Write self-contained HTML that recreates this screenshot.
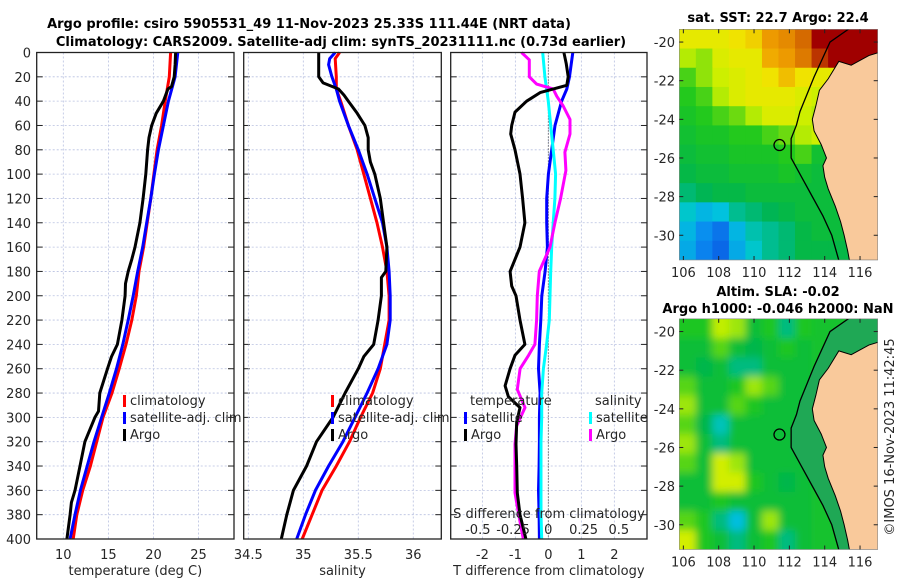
<!DOCTYPE html>
<html><head><meta charset="utf-8"><style>
html,body{margin:0;padding:0;background:#fff;}
svg{display:block;font-family:"DejaVu Sans","Liberation Sans",sans-serif;}
.t{font-size:13px;fill:#262626;}
.b{font-size:13px;font-weight:bold;fill:#000;}
</style></head><body>
<svg id="fig" width="900" height="580" viewBox="0 0 900 580" xmlns="http://www.w3.org/2000/svg">
<text class="b" x="309" y="28" text-anchor="middle">Argo profile: csiro 5905531_49 11-Nov-2023 25.33S 111.44E (NRT data)</text>
<text class="b" x="341" y="46" text-anchor="middle">Climatology: CARS2009. Satellite-adj clim: synTS_20231111.nc (0.73d earlier)</text>
<text class="b" x="778" y="22" text-anchor="middle">sat. SST: 22.7 Argo: 22.4</text>
<text class="b" x="778" y="296" text-anchor="middle">Altim. SLA: -0.02</text>
<text class="b" x="778" y="313" text-anchor="middle">Argo h1000: -0.046 h2000: NaN</text>
<text class="t" x="0" y="0" transform="translate(894,437) rotate(-90)" text-anchor="middle">©IMOS 16-Nov-2023 11:42:45</text>
<g id="g"></g>
</svg>
<script>
// ---------- data ----------
const depthTicks = [0,20,40,60,80,100,120,140,160,180,200,220,240,260,280,300,320,340,360,380,400];
const stdDepths = [0,20,40,60,80,100,120,140,160,180,200,220,240,260,280,300,320,340,360,380,400];
const tempClim = [21.9,21.75,21.3,20.9,20.4,20.05,19.7,19.3,18.9,18.4,18.1,17.6,16.95,16.2,15.4,14.4,13.7,13.0,12.15,11.5,11.1];
const tempSat = [22.7,22.4,21.65,21.1,20.55,20.1,19.7,19.25,18.8,18.25,17.75,17.2,16.6,15.9,15.1,14.25,13.4,12.65,11.9,11.3,10.75];
const argoTDepths = [0,10,20,28,30,40,50,60,70,80,100,120,140,160,170,180,190,200,220,240,250,260,280,295,300,320,340,360,370,380,400];
const tempArgo = [22.45,22.4,22.3,22.0,21.6,21.1,20.3,19.8,19.5,19.35,19.15,18.85,18.5,17.95,17.6,17.2,16.9,16.85,16.5,16.0,15.35,14.9,14.05,13.9,13.5,12.4,11.85,11.3,10.9,10.75,10.4];
const salClimDepths = [0,5,20,30,40,60,80,100,120,140,160,180,200,220,240,260,280,300,320,340,360,380,400];
const salClim = [35.33,35.29,35.30,35.30,35.34,35.41,35.49,35.55,35.61,35.67,35.72,35.76,35.78,35.78,35.74,35.70,35.63,35.52,35.42,35.30,35.17,35.08,34.99];
const salSatDepths = [0,5,10,20,30,40,60,80,100,120,140,160,180,200,220,240,260,280,300,320,340,360,380,400];
const salSat = [35.29,35.24,35.23,35.26,35.30,35.33,35.41,35.50,35.58,35.65,35.72,35.76,35.78,35.79,35.79,35.76,35.68,35.58,35.47,35.36,35.23,35.11,35.02,34.94];
const salArgoDepths = [0,5,20,25,30,35,40,50,60,70,80,90,100,120,140,160,180,185,200,220,240,250,260,280,300,320,340,360,380,400];
const salArgo = [35.14,35.14,35.14,35.18,35.32,35.37,35.41,35.49,35.56,35.59,35.59,35.61,35.65,35.70,35.73,35.76,35.75,35.71,35.71,35.68,35.64,35.55,35.50,35.38,35.27,35.12,35.03,34.91,34.85,34.80];
const tDiffSatDepths = [0,20,30,40,60,80,100,120,140,160,180,200,220,240,260,280,300,320,340,360,380,400];
const tDiffSat = [0.74,0.64,0.56,0.4,0.2,0.1,0,-0.05,-0.05,-0.03,-0.1,-0.2,-0.23,-0.27,-0.3,-0.25,-0.27,-0.27,-0.28,-0.3,-0.28,-0.27];
const tDiffArgoDepths = [0,9,20,27,33,40,49,60,67,80,100,120,140,160,180,192,200,220,240,249,260,274,283,292,304,322,340,362,380,400];
const tDiffArgo = [0.47,0.54,0.6,0.56,-0.25,-0.66,-1.01,-1.11,-1.14,-1.01,-0.86,-0.78,-0.71,-0.86,-1.16,-1.11,-0.98,-0.86,-0.71,-1.01,-1.16,-1.31,-1.21,-0.86,-0.96,-0.98,-0.96,-0.94,-0.86,-0.68];
const sDiffSatDepths = [0,20,40,60,80,100,120,140,160,180,200,220,240,260,280,300,320,340,360,380,400];
const sDiffSat = [-0.04,-0.024,0,0.017,0.035,0.052,0.047,0.035,0.024,0.017,0.012,0.007,-0.012,-0.035,-0.047,-0.047,-0.052,-0.052,-0.052,-0.052,-0.047];
const sDiffArgoDepths = [0,6,20,26,30,36,44,55,67,82,97,120,140,160,180,200,220,240,249,260,277,292,307,322,340,362,380,400];
const sDiffArgo = [-0.19,-0.135,-0.135,-0.083,0.035,0.06,0.106,0.154,0.154,0.118,0.125,0.087,0.047,0.012,-0.064,-0.078,-0.083,-0.095,-0.14,-0.2,-0.22,-0.165,-0.225,-0.236,-0.236,-0.236,-0.21,-0.177];
const tempTicks = [10,15,20,25];
const salTicks = [34.5,35,35.5,36];
const salTickLabels = ["34.5","35","35.5","36"];
const tdTicks = [-2,-1,0,1,2];
const sdTicks = [-0.5,-0.25,0,0.25,0.5];
const sdTickLabels = ["-0.5","-0.25","0","0.25","0.5"];
const latTicks = [-20,-22,-24,-26,-28,-30];
const lonTicks = [106,108,110,112,114,116];
// SST grid (deg C), rows north->south, cols west->east
const sstGrid = [
[22.9,22.9,22.9,23.0,23.1,23.4,23.5,23.7,24.3,24.3,24.3,24.3],
[22.6,22.5,22.8,22.9,22.9,23.3,23.4,23.6,24.0,24.3,24.3,24.3],
[22.3,22.5,22.7,22.8,22.9,23.0,23.2,23.0,22.9,22.9,22.9,22.9],
[22.2,22.3,22.6,22.8,22.9,22.9,22.9,22.8,22.7,22.7,22.7,22.7],
[22.1,22.2,22.3,22.4,22.6,22.8,22.8,22.7,22.6,22.6,22.6,22.6],
[22.0,22.1,22.1,22.2,22.2,22.3,22.4,22.6,22.7,22.7,22.7,22.7],
[21.9,22.0,22.0,22.1,22.1,22.1,22.2,22.3,22.0,22.0,22.0,22.0],
[21.8,21.9,21.9,22.0,22.0,22.0,22.1,22.0,21.9,21.9,21.9,21.9],
[21.6,21.7,21.8,21.8,21.9,21.9,21.9,21.9,21.9,21.9,21.9,21.9],
[21.3,21.1,21.2,21.5,21.6,21.7,21.8,21.9,21.9,21.9,21.9,21.9],
[21.1,20.8,20.6,21.1,21.4,21.5,21.6,21.8,21.9,21.9,21.9,21.9],
[21.0,20.7,20.5,21.0,21.3,21.5,21.6,21.8,21.8,21.8,21.8,21.8]];
const slaGrid = [
[0.01,0.01,0.035,0.03,0.0,0.01,-0.02,0.01,0.005,0.005,0.005,0.005],
[0.0,0.0,0.02,0.0,-0.01,0.0,0.01,0.0,0.005,0.005,0.005,0.005],
[0.0,-0.01,0.0,-0.02,-0.02,0.0,0.0,0.0,0.005,0.005,0.005,0.005],
[0.02,0.0,0.0,0.01,0.03,0.02,0.0,0.0,0.005,0.005,0.005,0.005],
[0.03,0.0,0.0,0.02,0.01,0.0,0.0,0.0,0.005,0.005,0.005,0.005],
[0.02,-0.01,-0.03,0.0,0.0,0.0,0.0,0.0,0.005,0.005,0.005,0.005],
[0.03,0.0,-0.02,0.0,0.0,0.0,0.0,-0.01,0.005,0.005,0.005,0.005],
[0.02,0.0,0.04,0.03,0.0,0.0,0.0,0.0,0.005,0.005,0.005,0.005],
[0.0,0.0,0.04,0.04,0.01,0.0,-0.01,0.0,0.005,0.005,0.005,0.005],
[0.0,0.0,0.01,0.0,0.0,0.0,0.0,0.0,0.005,0.005,0.005,0.005],
[0.02,0.01,-0.02,-0.04,0.0,0.03,0.0,0.0,0.005,0.005,0.005,0.005],
[0.04,0.01,0.0,-0.02,0.0,0.01,-0.02,0.0,0.005,0.005,0.005,0.005]];
const coastLon = [117.2,116.5,115.5,114.8,114.2,113.7,113.5,113.3,113.4,113.8,114.1,113.9,114.0,114.2,114.6,114.9,115.1,115.3,115.4,117.2];
const coastLat = [-20.5,-20.7,-21.2,-21.0,-21.9,-22.5,-23.3,-24.0,-24.6,-25.3,-26.0,-26.4,-27.0,-27.6,-28.5,-29.3,-30.0,-30.8,-31.3,-31.3];
const shelfLon = [115.4,114.3,113.4,113.0,112.6,112.4,112.1,112.1,112.7,113.3,113.9,114.4,114.8];
const shelfLat = [-19.3,-20.0,-21.8,-22.7,-23.6,-24.3,-25.0,-26.0,-27.0,-28.0,-29.0,-30.0,-31.3];
const argoLon = 111.44, argoLat = -25.33;

// ---------- helpers ----------
const NS='http://www.w3.org/2000/svg';
const G=document.getElementById('g');
function mk(tag,attrs,parent){const e=document.createElementNS(NS,tag);for(const k in attrs)e.setAttribute(k,attrs[k]);(parent||G).appendChild(e);return e;}
function lin(d0,d1,r0,r1){return v=>r0+(v-d0)/(d1-d0)*(r1-r0);}
const Y0=52.5,Y1=539;
const yD=lin(0,400,Y0,Y1);
const GRID='#b8c0e0';

function panel(x0,x1,xs,xTicks,xLabels,xTitle,name){
  const g=mk('g',{});
  
  
  depthTicks.forEach(d=>{const y=yD(d);
    const l=mk('line',{x1:x0,x2:x1,y1:y,y2:y,stroke:GRID,'stroke-width':0.8,'stroke-dasharray':'2,2'},g);
    
    mk('line',{x1:x0,x2:x0+6,y1:y,y2:y,stroke:'#222','stroke-width':1},g);
    mk('line',{x1:x1-6,x2:x1,y1:y,y2:y,stroke:'#222','stroke-width':1},g);
  });
  xTicks.forEach((v,i)=>{const x=xs(v);
    const l=mk('line',{x1:x,x2:x,y1:Y0,y2:Y1,stroke:GRID,'stroke-width':0.8,'stroke-dasharray':'2,2'},g);
    
    const t=mk('text',{x:x,y:559,'text-anchor':'middle',class:'t'},g);t.textContent=xLabels[i];
    
  });
  const t=mk('text',{x:(x0+x1)/2,y:575,'text-anchor':'middle',class:'t'},g);t.textContent=xTitle;
  
  return g;
}
function border(x0,x1){const r=mk('rect',{x:x0,y:Y0,width:x1-x0,height:Y1-Y0,fill:'none',stroke:'#222','stroke-width':1.3});
  }
function line(xs,vals,deps,color,name,w){
  const pts=vals.map((v,i)=>xs(v).toFixed(1)+','+yD(deps[i]).toFixed(1)).join(' ');
  const p=mk('polyline',{points:pts,fill:'none',stroke:color,'stroke-width':w||3,'stroke-linejoin':'round'});
  
}
function legItem(x,y,color,label,name){
  const r=mk('rect',{x:x-6,y:y-10,width:3,height:12,fill:color});
  
  const t=mk('text',{x:x+1,y:y,class:'t'});t.textContent=label;
  
}

depthTicks.forEach(d=>{const t=mk('text',{x:31,y:yD(d)+5,'text-anchor':'end',class:'t'});t.textContent=String(d);
  });

// panel 1 temperature
const xT=lin(7.05,28.93,36.7,234);
panel(36.7,234,xT,tempTicks,tempTicks.map(String),'temperature (deg C)','temperature-panel');
line(xT,tempClim,stdDepths,'#ff0000','temp-climatology-line');
line(xT,tempSat,stdDepths,'#0000ff','temp-satellite-line');
line(xT,tempArgo,argoTDepths,'#000000','temp-argo-line');
border(36.7,234);
legItem(129,405,'#ff0000','climatology','legend-climatology');
legItem(129,422,'#0000ff','satellite-adj. clim','legend-satellite-adj');
legItem(129,439,'#000000','Argo','legend-argo');

// panel 2 salinity
const xS=lin(34.458,36.255,243.7,441.3);
panel(243.7,441.3,xS,salTicks,salTickLabels,'salinity','salinity-panel');
line(xS,salClim,salClimDepths,'#ff0000','sal-climatology-line');
line(xS,salSat,salSatDepths,'#0000ff','sal-satellite-line');
line(xS,salArgo,salArgoDepths,'#000000','sal-argo-line');
border(243.7,441.3);
legItem(337,405,'#ff0000','climatology','legend-climatology-2');
legItem(337,422,'#0000ff','satellite-adj. clim','legend-satellite-adj-2');
legItem(337,439,'#000000','Argo','legend-argo-2');

// panel 3 differences
const xTD=lin(-2.96,2.99,450.7,647);
const xSD=lin(0,1,548.3,689.3);
panel(450.7,647,xTD,tdTicks,tdTicks.map(String),'T difference from climatology','difference-panel');
const zl=mk('line',{x1:xTD(0),x2:xTD(0),y1:Y0,y2:Y1,stroke:'#333','stroke-width':1,'stroke-dasharray':'1,2'});

line(xTD,tDiffSat,tDiffSatDepths,'#0000ff','tdiff-satellite-line');
line(xSD,sDiffSat,sDiffSatDepths,'#00ffff','sdiff-satellite-line');
line(xSD,sDiffArgo,sDiffArgoDepths,'#ff00ff','sdiff-argo-line');
line(xTD,tDiffArgo,tDiffArgoDepths,'#000000','tdiff-argo-line');
border(450.7,647);
let tt=mk('text',{x:470,y:405,class:'t'});tt.textContent='temperature';

legItem(470,422,'#0000ff','satellite','legend-t-satellite');
legItem(470,439,'#000000','Argo','legend-t-argo');
tt=mk('text',{x:595,y:405,class:'t'});tt.textContent='salinity';

legItem(595,422,'#00ffff','satellite','legend-s-satellite');
legItem(595,439,'#ff00ff','Argo','legend-s-argo');
tt=mk('text',{x:549,y:518,'text-anchor':'middle',class:'t'});tt.textContent='S difference from climatology';

sdTicks.forEach((v,i)=>{const t=mk('text',{x:xSD(v),y:534,'text-anchor':'middle',class:'t'});t.textContent=sdTickLabels[i];
  });

// ---------- maps ----------
const cmT=[0,0.12,0.25,0.35,0.45,0.55,0.65,0.72,0.8,0.88,1.0];
const cmC=[[0,0,140],[10,60,220],[10,140,240],[0,200,220],[0,180,80],[30,200,30],[200,240,0],[240,230,0],[240,160,0],[210,100,0],[160,0,0]];
function cmap(t){t=Math.max(0,Math.min(1,t));
  let i=0;while(i<cmT.length-2&&t>cmT[i+1])i++;
  const f=(t-cmT[i])/(cmT[i+1]-cmT[i]);
  const c=cmC[i].map((v,k)=>Math.round(v+(cmC[i+1][k]-v)*f));
  return 'rgb('+c.join(',')+')';}
const MX0=679.3,MX1=877.7,LON0=105.77,LON1=117.0,LAT0=-19.34,LAT1=-31.28;
function map(yTop,grid,vmin,vmax,name,blur){
  const yB=yTop+230.7;
  const mx=lin(LON0,LON1,MX0,MX1), my=lin(LAT0,LAT1,yTop,yB);
  const g=mk('g',{});
  
  const cid='clip'+name;
  const cp=mk('clipPath',{id:cid},g);mk('rect',{x:MX0,y:yTop,width:MX1-MX0,height:yB-yTop},cp);
  const cells=mk('g',{'clip-path':'url(#'+cid+')'},g);
  const inner=mk('g',blur?{filter:'url(#bl)'}:{},cells);
  const nr=grid.length,nc=grid[0].length;
  const cw=(LON1-LON0)/nc, ch=(LAT0-LAT1)/nr;
  grid.forEach((row,r)=>row.forEach((v,c)=>{
    let x=mx(LON0+c*cw), y=my(LAT0-r*ch);
    let w=mx(LON0+(c+1)*cw)-x+0.6, h=my(LAT0-(r+1)*ch)-y+0.6;
    if(blur){if(c==0){x-=12;w+=12;} if(c==nc-1)w+=12; if(r==0){y-=12;h+=12;} if(r==nr-1)h+=12;}
    const e=mk('rect',{x:x,y:y,width:w,height:h,fill:cmap((v-vmin)/(vmax-vmin))},inner);
    
  }));
  if(blur){
    const sp=shelfLon.map((v,i)=>mx(v)+','+my(shelfLat[i])).concat([mx(117.2)+','+my(-31.3),mx(117.2)+','+my(-19.3)]).join(' ');
    const s=mk('polygon',{points:sp,fill:'#1fa855'},cells);
    
  }
  const pl=shelfLon.map((v,i)=>mx(v)+','+my(shelfLat[i])).join(' ');
  const sl=mk('polyline',{points:pl,fill:'none',stroke:'#000','stroke-width':1.3},cells);
  
  const lp=coastLon.map((v,i)=>mx(v)+','+my(coastLat[i])).join(' ');
  const land=mk('polygon',{points:lp,fill:'#f9c99b',stroke:'#000','stroke-width':1},cells);
  
  const ci=mk('circle',{cx:mx(argoLon),cy:my(argoLat),r:5.5,fill:'none',stroke:'#000','stroke-width':1.3},g);
  
  mk('rect',{x:MX0,y:yTop,width:MX1-MX0,height:yB-yTop,fill:'none',stroke:'#888','stroke-width':0.6},g);
  latTicks.forEach(v=>{const y=my(v);
    mk('line',{x1:MX0,x2:MX0+4,y1:y,y2:y,stroke:'#222'},g);mk('line',{x1:MX1-4,x2:MX1,y1:y,y2:y,stroke:'#222'},g);
    const t=mk('text',{x:675,y:y+5,'text-anchor':'end',class:'t'},g);t.textContent=String(v);
    });
  lonTicks.forEach(v=>{const x=mx(v);
    mk('line',{x1:x,x2:x,y1:yB-4,y2:yB,stroke:'#222'},g);mk('line',{x1:x,x2:x,y1:yTop,y2:yTop+4,stroke:'#222'},g);
    const t=mk('text',{x:x,y:yB+17,'text-anchor':'middle',class:'t'},g);t.textContent=String(v);
    });
}
const defs=mk('defs',{});const f=mk('filter',{id:'bl',x:'-10%',y:'-10%',width:'120%',height:'120%'},defs);
mk('feGaussianBlur',{stdDeviation:4},f);
map(29.3,sstGrid,19.6,24.3,'sst-map',false);
map(318.8,slaGrid,-0.12,0.12,'sla-map',true);
</script>
</body></html>
